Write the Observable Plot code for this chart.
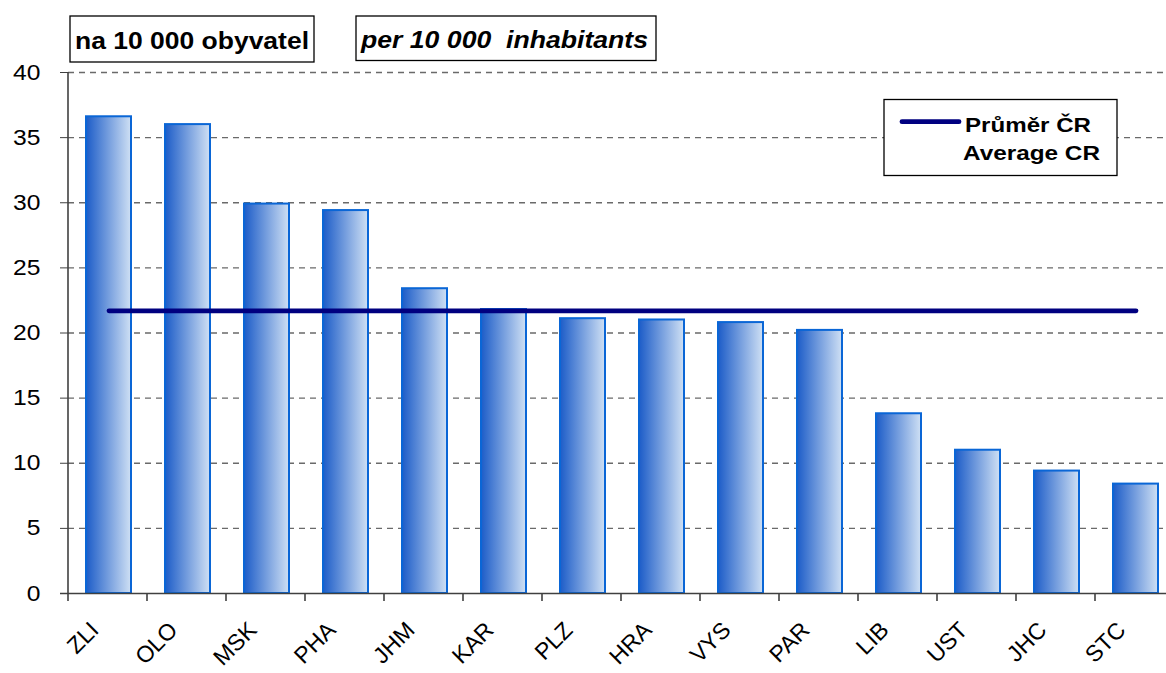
<!DOCTYPE html>
<html><head><meta charset="utf-8">
<script src="https://cdn.jsdelivr.net/npm/d3@7"></script>
<script src="https://cdn.jsdelivr.net/npm/@observablehq/plot@0.6"></script>
<style>body{margin:0;background:#fff} #chart svg{display:block}</style>
</head><body><div id="chart"></div>
<script>
const regions = ["ZLI","OLO","MSK","PHA","JHM","KAR","PLZ","HRA","VYS","PAR","LIB","UST","JHC","STC"];
const rates = [36.6,36.0,29.9,29.4,23.4,21.8,21.1,21.0,20.8,20.2,13.8,11.0,9.4,8.4];
const averageCR = 21.7;
const yTicks = [0,5,10,15,20,25,30,35,40];
const titleCz = "na 10 000 obyvatel";
const titleEn = "per 10 000  inhabitants";
const legendLabels = ["Průměr ČR", "Average CR"];

const data = regions.map((r, i) => ({region: r, rate: rates[i]}));
const FONT = "'Liberation Sans', Arial, sans-serif";

const plot = Plot.plot({
  width: 1166, height: 673,
  marginLeft: 68, marginRight: 0, marginTop: 72, marginBottom: 80,
  style: {fontFamily: FONT, fontSize: "22px", color: "#000", background: "#fff", overflow: "hidden"},
  x: {domain: regions, range: [68, 1177], paddingInner: 0.43, paddingOuter: 0.215, axis: null},
  y: {domain: [0, 40], ticks: yTicks, tickSize: 8, tickPadding: 20, tickFormat: d => String(d), label: null},
  marks: [
    Plot.ruleY(yTicks.filter(d => d > 0), {stroke: "#6a6a6a", strokeWidth: 1.3, strokeDasharray: "6,5"}),
    Plot.barY(data, {x: "region", y: "rate", fill: "url(#barGrad)", stroke: "#0a66d6", strokeWidth: 2}),
    Plot.lineY(regions, {x: d => d, y: () => averageCR, stroke: "#000080", strokeWidth: 4.8, strokeLinecap: "round"}),
    Plot.ruleY([0], {stroke: "#404040", strokeWidth: 1.6, insetLeft: -8}),
    Plot.text(regions, {x: d => d, y: () => 0, text: d => d, rotate: -45, textAnchor: "end", lineAnchor: "bottom", dx: -9, dy: 38, fontSize: 23, fill: "#000"})
  ]
});

const svg = d3.select(plot);
const defs = svg.insert("defs", ":first-child");
const grad = defs.append("linearGradient").attr("id", "barGrad").attr("x1", 0).attr("x2", 1).attr("y1", 0).attr("y2", 0);
grad.append("stop").attr("offset", "0%").attr("stop-color", "#1c5cc8");
grad.append("stop").attr("offset", "100%").attr("stop-color", "#cfe0f4");

// axis tick colours and label size
svg.selectAll('[aria-label="y-axis tick"]').attr("stroke", "#404040");
svg.selectAll('[aria-label="y-axis"] .tick line').attr("stroke", "#404040");
const yLabels = svg.selectAll('g[aria-label*="y-axis"] text');
yLabels.style("font-size", "22px");

// axis line + category boundary ticks from scales
const xs = plot.scale("x"), ys = plot.scale("y");
const step = xs.step || (xs.range[1] - xs.range[0]) / regions.length;
const yTop = ys.apply(40), yZero = ys.apply(0);
const axes = svg.append("g").attr("stroke", "#404040").attr("stroke-width", 1.6);
axes.append("line").attr("x1", xs.range[0]).attr("x2", xs.range[0]).attr("y1", yTop).attr("y2", yZero + 8);
for (let i = 1; i <= regions.length; i++) {
  const x = xs.range[0] + i * step;
  axes.append("line").attr("x1", x).attr("x2", x).attr("y1", yZero).attr("y2", yZero + 8);
}

// title boxes
const t = svg.append("g").attr("font-family", FONT).attr("font-weight", "bold").attr("text-anchor", "start").style("text-anchor", "start");
t.append("rect").attr("x", 70).attr("y", 16).attr("width", 244).attr("height", 46).attr("fill", "#fff").attr("stroke", "#000").attr("stroke-width", 1.3);
t.append("text").attr("x", 75).attr("y", 49).style("font-size", "23px").attr("textLength", 234).attr("lengthAdjust", "spacingAndGlyphs").text(titleCz);
t.append("rect").attr("x", 356).attr("y", 16).attr("width", 300).attr("height", 44.5).attr("fill", "#fff").attr("stroke", "#000").attr("stroke-width", 1.3);
t.append("text").attr("x", 361).attr("y", 47.5).style("font-size", "23px").attr("font-style", "italic").attr("textLength", 287).attr("lengthAdjust", "spacingAndGlyphs").text(titleEn);

// legend
const lg = svg.append("g").attr("font-family", FONT).attr("font-weight", "bold").attr("text-anchor", "start").style("text-anchor", "start").style("font-size", "21px");
lg.append("rect").attr("x", 884).attr("y", 99.5).attr("width", 233).attr("height", 76).attr("fill", "#fff").attr("stroke", "#000").attr("stroke-width", 1.3);
lg.append("line").attr("x1", 902).attr("x2", 959).attr("y1", 121.7).attr("y2", 121.7).attr("stroke", "#000080").attr("stroke-width", 4.8).attr("stroke-linecap", "round");
lg.append("text").attr("x", 965).attr("y", 131.5).attr("textLength", 126).attr("lengthAdjust", "spacingAndGlyphs").text(legendLabels[0]);
lg.append("text").attr("x", 963).attr("y", 160).attr("textLength", 137).attr("lengthAdjust", "spacingAndGlyphs").text(legendLabels[1]);

document.getElementById("chart").append(plot);

// widen the y tick labels slightly, as in the reference
yLabels.each(function() {
  const len = this.getComputedTextLength();
  if (len > 0) d3.select(this).attr("textLength", len * 1.12).attr("lengthAdjust", "spacingAndGlyphs");
});
</script>
</body></html>
